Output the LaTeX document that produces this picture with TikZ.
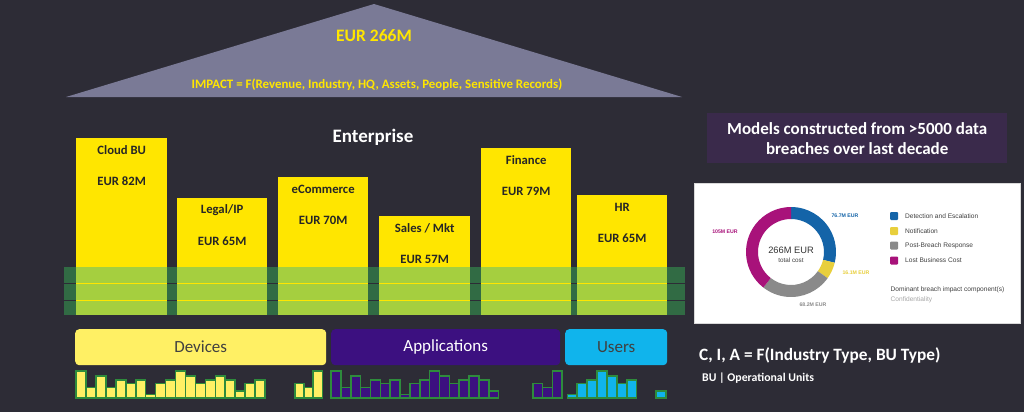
\documentclass[tikz,border=0pt]{standalone}
\usepackage{fontspec}
\setmainfont{Carlito}
\newfontfamily\chartfont{Liberation Sans}
\usetikzlibrary{calc}
\definecolor{bgc}{RGB}{45,44,54}
\definecolor{tric}{RGB}{122,122,150}
\definecolor{buyel}{RGB}{255,230,0}
\definecolor{dkgreen}{RGB}{49,107,68}
\definecolor{limec}{RGB}{165,207,63}
\definecolor{devyel}{RGB}{255,240,100}
\definecolor{apppur}{RGB}{60,16,128}
\definecolor{usrcyan}{RGB}{16,180,236}
\definecolor{bargreen}{RGB}{46,139,60}
\definecolor{titlepur}{RGB}{58,42,75}
\definecolor{dblue}{RGB}{20,100,168}
\definecolor{dyellow}{RGB}{232,207,60}
\definecolor{dgray}{RGB}{138,138,138}
\definecolor{dmag}{RGB}{168,18,122}
\newcommand\bargroup[4]{%
  \foreach \h [count=\i from 0] in {#4} {
    \draw[barst, fill=#3] ({#1+\i*#2},398) rectangle ({#1+(\i+1)*#2},{398-\h});
  }}
\begin{document}
\begin{tikzpicture}[x=1pt,y=-1pt,
  bubox/.style={fill=buyel, draw=none, inner sep=0, anchor=north west},
  butxt/.style={font=\bfseries\fontsize{12.7}{14}\selectfont, text=black!85, inner sep=0},
  tritxt/.style={text=buyel, inner sep=0},
  layer/.style={rounded corners=4pt, inner sep=0, anchor=north west, minimum height=36pt, font=\fontsize{17}{20}\selectfont},
  barst/.style={draw=bargreen, line width=1.6pt},
  legsq/.style={rounded corners=1pt, minimum size=8pt, inner sep=0},
  legtxt/.style={anchor=west, inner sep=0, font=\chartfont\fontsize{6.6}{8}\selectfont, text=black!75},
  seglbl/.style={inner sep=0, font=\chartfont\bfseries\fontsize{5.2}{6}\selectfont},
]
\useasboundingbox (0,0) rectangle (1024,412);
\fill[bgc] (0,0) rectangle (1024,412);

% roof
\coordinate (tl) at (66,97);
\coordinate (tt) at (374,4);
\coordinate (tr) at (682,97);
\fill[tric] (tl) -- (tt) -- (tr) -- cycle;
\node[tritxt, font=\bfseries\fontsize{17.5}{20}\selectfont] (total) at (374,36) {EUR 266M};
\node[tritxt, font=\bfseries\fontsize{12.9}{14}\selectfont] (impact) at (377,85) {IMPACT = F(Revenue, Industry, HQ, Assets, People, Sensitive Records)};

\node[text=white, inner sep=0, font=\bfseries\fontsize{19}{22}\selectfont] (ent) at (373,137) {Enterprise};

% business units
\node[bubox, minimum width=91pt, minimum height=177pt] (cloud) at (76,138) {};
\node[bubox, minimum width=90pt, minimum height=117pt] (legal) at (177,198) {};
\node[bubox, minimum width=90pt, minimum height=138pt] (ecom) at (278,177) {};
\node[bubox, minimum width=91pt, minimum height=99pt] (sales) at (379,216) {};
\node[bubox, minimum width=90pt, minimum height=167pt] (fin) at (481,148) {};
\node[bubox, minimum width=90pt, minimum height=120pt] (hr) at (577,195) {};
\foreach \n/\a/\b in {cloud/{Cloud BU}/{EUR 82M}, legal/{Legal/IP}/{EUR 65M}, ecom/{eCommerce}/{EUR 70M}, sales/{Sales / Mkt}/{EUR 57M}, fin/{Finance}/{EUR 79M}, hr/{HR}/{EUR 65M}}{
  \node[butxt] (\n-name) at ($(\n.north)+(0,12)$) {\a};
  \node[butxt] (\n-val) at ($(\n.north)+(0,43)$) {\b};
}

% bands
\foreach \t/\u in {267/282.5, 284/299.5, 301/315}{
  \fill[dkgreen] (64,\t) rectangle (685,\u);
  \foreach \a/\b in {76/167, 177/267, 278/368, 379/470, 481/571, 577/667}{
    \fill[limec] (\a,\t) rectangle (\b,\u);
  }
}

% layers
\node[layer, fill=devyel, text=black!75, minimum width=251pt] (devices) at (75,329) {Devices};
\node[layer, fill=apppur, text=white, minimum width=229pt] (apps) at (331,329) {Applications};
\node[layer, fill=usrcyan, text=black!75, minimum width=102pt] (users) at (565,329) {Users};

% bars
\bargroup{76}{9.95}{devyel}{27,10.5,22,10.5,18,14.5,18,3.5,14.5,18,27,22,14.5,18,22,18,7,14.5,18}
\bargroup{295}{9.1}{devyel}{14.5,10.5,27}
\bargroup{331}{9.86}{apppur}{27,10.5,22,10.5,18,14.5,18,3.5,14.5,18,27,22,14.5,18,22,18,7}
\bargroup{532.7}{9.8}{apppur}{14.5,10.5,27}
\bargroup{567.3}{9.9}{usrcyan}{3.5,14.5,18,27,22,14.5,18}
\bargroup{656}{10}{usrcyan}{7}

% right side
\node[fill=titlepur, text=white, minimum width=300pt, minimum height=50pt, inner sep=0, anchor=north west, align=center,
  font=\bfseries\fontsize{17}{20}\selectfont] (title) at (707,113) {Models constructed from >5000 data\\breaches over last decade};
\node[draw=black!15, fill=white, minimum width=326pt, minimum height=140pt, inner sep=0, anchor=north west] (panel) at (694,183) {};

\coordinate (dc) at (791,252);
\begin{scope}[shift={(dc)}, y=1pt]
  \fill[dblue] (90:45pt) arc[start angle=90, end angle=-13.8, radius=45pt] -- (-13.8:33pt) arc[start angle=-13.8, end angle=90, radius=33pt] -- cycle;
  \fill[dyellow] (-13.8:45pt) arc[start angle=-13.8, end angle=-35.6, radius=45pt] -- (-35.6:33pt) arc[start angle=-35.6, end angle=-13.8, radius=33pt] -- cycle;
  \fill[dgray] (-35.6:45pt) arc[start angle=-35.6, end angle=-127.9, radius=45pt] -- (-127.9:33pt) arc[start angle=-127.9, end angle=-35.6, radius=33pt] -- cycle;
  \fill[dmag] (-127.9:45pt) arc[start angle=-127.9, end angle=-270, radius=45pt] -- (-270:33pt) arc[start angle=-270, end angle=-127.9, radius=33pt] -- cycle;
\end{scope}
\node[inner sep=0, text=black!80, font=\chartfont\fontsize{9.3}{11}\selectfont] (dtot) at (791,250) {266M EUR};
\node[inner sep=0, text=black!75, font=\chartfont\fontsize{6.3}{7}\selectfont] (dsub) at (791,260.5) {total cost};
\node[seglbl, text=dblue] (s1) at (845,216) {76.7M EUR};
\node[seglbl, text=dyellow] (s2) at (856,273) {16.1M EUR};
\node[seglbl, text=dgray] (s3) at (813,305) {68.2M EUR};
\node[seglbl, text=dmag] (s4) at (725,232) {105M EUR};

\node[legsq, fill=dblue] (l1) at (894,216) {};
\node[legsq, fill=dyellow] (l2) at (894,231) {};
\node[legsq, fill=dgray] (l3) at (894,245.5) {};
\node[legsq, fill=dmag] (l4) at (894,260.5) {};
\node[legtxt] (t1) at (905,216) {Detection and Escalation};
\node[legtxt] (t2) at (905,231) {Notification};
\node[legtxt] (t3) at (905,245.5) {Post-Breach Response};
\node[legtxt] (t4) at (905,260.5) {Lost Business Cost};
\node[legtxt, anchor=west] (dom) at (890.5,290) {Dominant breach impact component(s)};
\node[legtxt, anchor=west, text=black!35] (conf) at (890.5,299.5) {Confidentiality};

\node[anchor=west, inner sep=0, text=white, font=\bfseries\fontsize{17.3}{20}\selectfont] (cia) at (699,355) {C, I, A = F(Industry Type, BU Type)};
\node[anchor=west, inner sep=0, text=white, font=\bfseries\fontsize{11.8}{13}\selectfont] (bu) at (702,378) {BU | Operational Units};
\end{tikzpicture}
\end{document}
